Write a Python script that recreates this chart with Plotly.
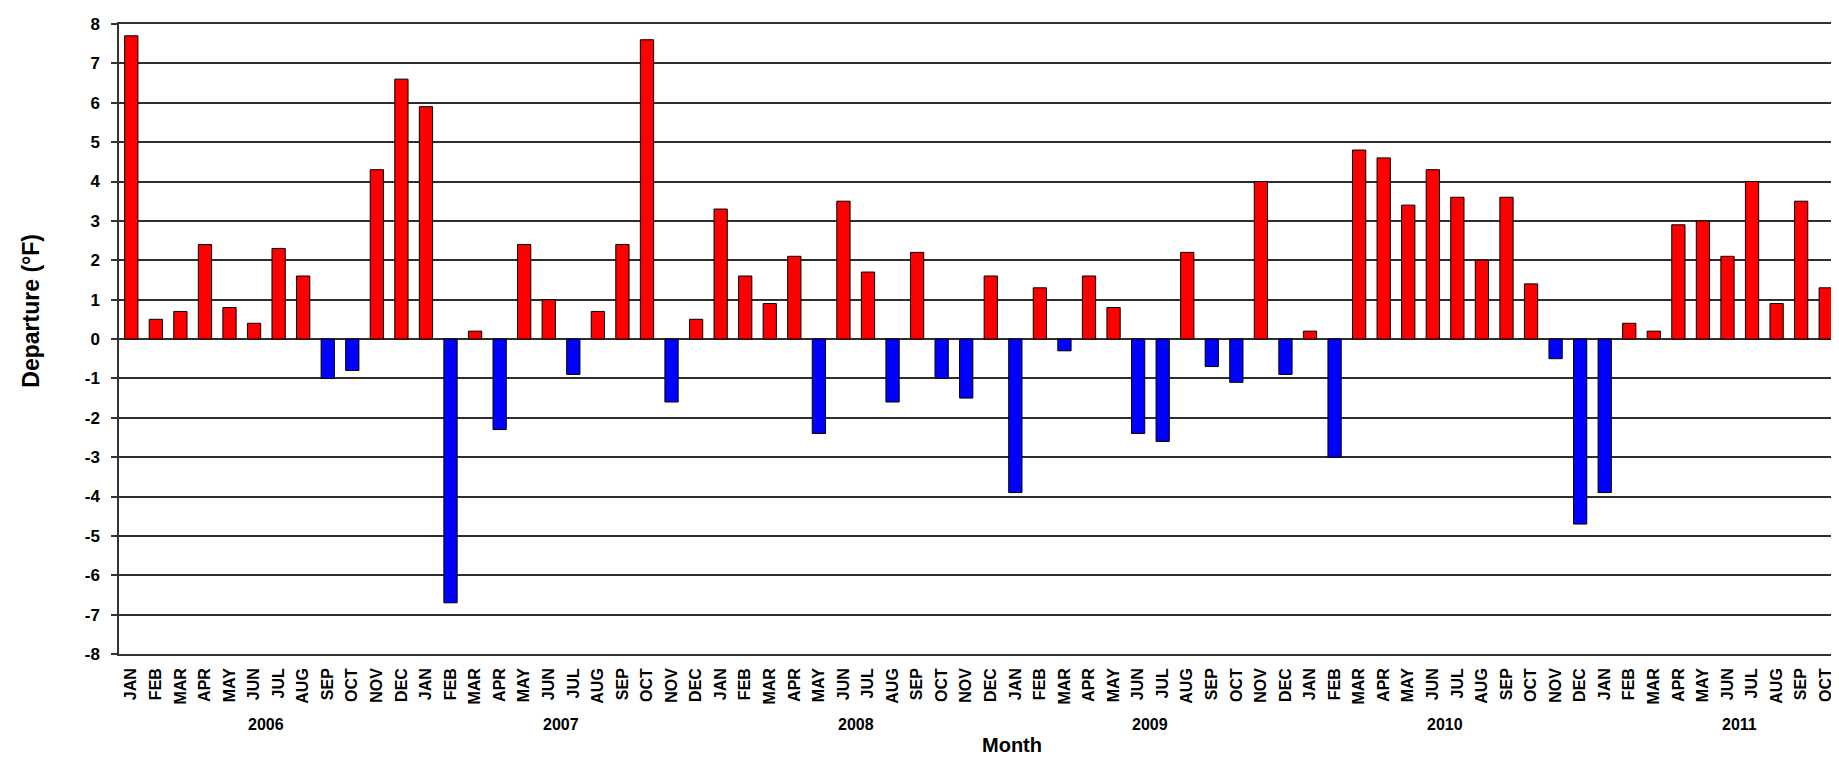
import plotly.graph_objects as go

month_names = ["JAN", "FEB", "MAR", "APR", "MAY", "JUN",
               "JUL", "AUG", "SEP", "OCT", "NOV", "DEC"]
years = ["2006", "2007", "2008", "2009", "2010", "2011"]
months = month_names * 5 + month_names[:10]
y_ticks = list(range(-8, 9))
y_tick_labels = [str(v) for v in y_ticks]

departure = [
    # 2006
    7.7, 0.5, 0.7, 2.4, 0.8, 0.4, 2.3, 1.6, -1.0, -0.8, 4.3, 6.6,
    # 2007
    5.9, -6.7, 0.2, -2.3, 2.4, 1.0, -0.9, 0.7, 2.4, 7.6, -1.6, 0.5,
    # 2008
    3.3, 1.6, 0.9, 2.1, -2.4, 3.5, 1.7, -1.6, 2.2, -1.0, -1.5, 1.6,
    # 2009
    -3.9, 1.3, -0.3, 1.6, 0.8, -2.4, -2.6, 2.2, -0.7, -1.1, 4.0, -0.9,
    # 2010
    0.2, -3.0, 4.8, 4.6, 3.4, 4.3, 3.6, 2.0, 3.6, 1.4, -0.5, -4.7,
    # 2011
    -3.9, 0.4, 0.2, 2.9, 3.0, 2.1, 4.0, 0.9, 3.5, 1.3,
]

x = list(range(len(departure)))
colors = ["#FF0000" if v >= 0 else "#0000FF" for v in departure]

FONT = "Arial, 'Liberation Sans', sans-serif"

fig = go.Figure(
    go.Bar(
        x=x,
        y=departure,
        marker=dict(color=colors, line=dict(color="black", width=1)),
        width=0.54,
        hoverinfo="skip",
    )
)

annotations = []
for i, yr in enumerate(years):
    annotations.append(dict(
        x=i * 12 + 5.5, xref="x", y=0, yref="paper", yshift=-70,
        text=yr, showarrow=False, xanchor="center", yanchor="middle",
        font=dict(family=FONT, size=16, color="black", weight="bold"),
    ))
annotations.append(dict(
    x=0.5195, xref="paper", y=0, yref="paper", yshift=-104,
    text="Month", showarrow=False, xanchor="center", yanchor="bottom",
    font=dict(family=FONT, size=20, color="black", weight="bold"),
))
annotations.append(dict(
    x=0, xref="paper", xshift=-88, y=0.545, yref="paper",
    text="Departure (°F)", showarrow=False, textangle=-90,
    xanchor="center", yanchor="middle",
    font=dict(family=FONT, size=23, color="black", weight="bold"),
))

fig.update_layout(
    width=1839, height=761,
    margin=dict(l=111, r=7, t=15, b=115),
    paper_bgcolor="white", plot_bgcolor="white",
    showlegend=False,
    bargap=0.46,
    annotations=annotations,
    xaxis=dict(
        range=[-0.5, len(departure) - 0.5],
        tickmode="array", tickvals=x, ticktext=months,
        tickangle=-90,
        tickfont=dict(family=FONT, size=16, color="black", weight="bold"),
        ticklabelstandoff=6,
        showgrid=False, zeroline=False,
        showline=True, linecolor="#333333", linewidth=1.5, mirror=True,
        ticks="",
        fixedrange=True,
    ),
    yaxis=dict(
        range=[-8, 8],
        tickmode="array", tickvals=y_ticks, ticktext=y_tick_labels,
        tickfont=dict(family=FONT, size=17, color="black", weight="bold"),
        ticklabelstandoff=8,
        showgrid=True, gridcolor="#2e2e2e", gridwidth=1.6,
        zeroline=False,
        showline=True, linecolor="#333333", linewidth=1.5, mirror=True,
        ticks="outside", ticklen=6, tickcolor="#333333", tickwidth=1.5,
        fixedrange=True,
    ),
)

fig.write_html("out.html")
